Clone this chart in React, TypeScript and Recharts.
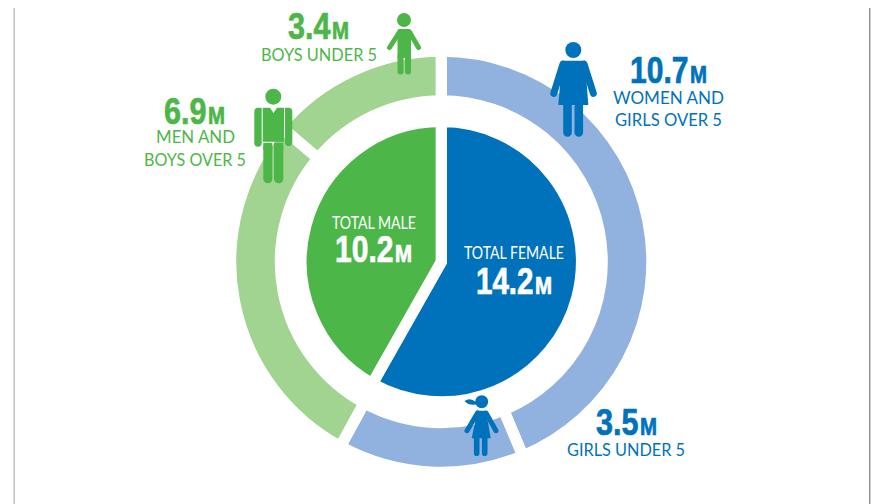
import { Pie, PieChart } from 'recharts';

const totalNames = ['Total Female', 'Total Male'];
const totalValues = [14.2, 10.2];
const totalColors = ['#0072bc', '#4cb748'];

const groupNames = ['Women and girls over 5', 'Girls under 5', 'Men and boys over 5', 'Boys under 5'];
const groupValues = [10.7, 3.5, 6.9, 3.4];
const groupColors = ['#91b1de', '#91b1de', '#a1d391', '#a1d391'];

const totalData = totalNames.map((name, i) => ({ name, value: totalValues[i], fill: totalColors[i] }));
const groupData = groupNames.map((name, i) => ({ name, value: groupValues[i], fill: groupColors[i] }));

const BLUE = '#0072bc';
const GREEN = '#4cb748';
const GAP = 11.3;
const CX = 441.3;
const CY = 261.7;

const LABEL_FONT = 'Lato, "Open Sans", sans-serif';
const VALUE_FONT = '"Liberation Sans Narrow", "Liberation Sans", sans-serif';

function Value({ x, y, w, value, color }: { x: number; y: number; w: number; value: number; color: string }) {
  const style = { fill: color, stroke: color, strokeWidth: 0.7, fontFamily: VALUE_FONT, fontWeight: 700 };
  // the small M is a separate text so the number can be fitted on its own
  return (
    <g style={style}>
      <text x={x} y={y} fontSize={37} textLength={w - 18.5} lengthAdjust="spacingAndGlyphs">
        {value.toFixed(1)}
      </text>
      <text x={x + w - 17} y={y} fontSize={23} textLength={17} lengthAdjust="spacingAndGlyphs">
        M
      </text>
    </g>
  );
}

function Label({ x, y, w, text, color }: { x: number; y: number; w: number; text: string; color: string }) {
  return (
    <text
      x={x}
      y={y}
      fill={color}
      fontFamily={LABEL_FONT}
      fontSize={17}
      textLength={w}
      lengthAdjust="spacingAndGlyphs"
    >
      {text}
    </text>
  );
}

function Boy() {
  return (
    <g fill={GREEN} stroke={GREEN} strokeLinecap="round">
      <circle cx={404} cy={20} r={7} stroke="none" />
      <path d="M399.5 29 H409 Q411 29 411 32 V58 H397.5 V32 Q397.5 29 399.5 29 Z" stroke="none" />
      <path d="M399.5 32 L389.5 47.5 M409.5 32 L418.5 47.5" strokeWidth={5} fill="none" />
      <path d="M400.5 56 V71.5 M408 56 V71.5" strokeWidth={6} fill="none" />
    </g>
  );
}

function Man() {
  return (
    <g fill={GREEN}>
      <circle cx={273.3} cy={96.7} r={8} />
      <path d="M262.7 107.7 H270 L273.5 113 L277 107.7 H284 V141.7 H262.7 Z" />
      <path d="M258 107.7 H261.7 V143 A3.7 3.7 0 0 1 254.3 143 V111.5 A3.8 3.8 0 0 1 258 107.7 Z" />
      <path d="M285 107.7 H288.5 A3.8 3.8 0 0 1 292.3 111.5 V143 A3.7 3.7 0 0 1 285 143 Z" />
      <rect x={263.3} y={142.8} width={9} height={40.5} rx={4.5} />
      <path d="M263.3 142.8 H272.3 V150 H263.3 Z" />
      <rect x={274} y={142.8} width={9.3} height={40.5} rx={4.6} />
      <path d="M274 142.8 H283.3 V150 H274 Z" />
    </g>
  );
}

function Woman() {
  return (
    <g fill={BLUE} stroke={BLUE} strokeLinecap="round">
      <circle cx={573.3} cy={50} r={8} stroke="none" />
      <path d="M562 60.7 H585 L588.3 105 H558.3 Z" stroke="none" />
      <path d="M563 64 L553.8 93.3 M584 64 L593.3 93.3" strokeWidth={7} fill="none" />
      <path d="M567.5 104 V132.5 M578.8 104 V132.5" strokeWidth={8.6} fill="none" />
    </g>
  );
}

function Girl() {
  return (
    <g fill={BLUE} stroke={BLUE} strokeLinecap="round">
      <circle cx={481.7} cy={401.7} r={6.5} stroke="none" />
      <path d="M476 402 Q470 397 464.5 401 Q469 406 476 404.5 Z" stroke="none" />
      <path d="M477.5 410.7 H486 L490.7 438.3 H471.7 Z" stroke="none" />
      <path d="M477.5 413 L467 430.7 M486 413 L496 430.7" strokeWidth={5} fill="none" />
      <path d="M476.7 437 V453.3 M484.7 437 V453.3" strokeWidth={5.6} fill="none" />
    </g>
  );
}

export default function App() {
  return (
    <div style={{ position: 'absolute', left: 0, top: 0, width: 873, height: 504, background: '#fff' }}>
      <PieChart width={873} height={504} margin={{ top: 0, right: 0, bottom: 0, left: 0 }}>
        <Pie
          data={groupData}
          dataKey="value"
          nameKey="name"
          cx={CX}
          cy={CY}
          innerRadius={166.5 - GAP / 2}
          outerRadius={205 + GAP / 2}
          startAngle={90}
          endAngle={-270}
          stroke="#fff"
          strokeWidth={GAP}
          isAnimationActive={false}
        />
        <Pie
          data={totalData}
          dataKey="value"
          nameKey="name"
          cx={CX}
          cy={CY}
          innerRadius={0}
          outerRadius={134.6 + GAP / 2}
          startAngle={90}
          endAngle={-270}
          stroke="#fff"
          strokeWidth={GAP}
          isAnimationActive={false}
        />
      </PieChart>
      {/* recharts paints its pies over chart children, so figures and labels go in their own layer */}
      <svg width={873} height={504} style={{ position: 'absolute', left: 0, top: 0 }}>
        <rect x={13.4} y={8} width={1.6} height={496} fill="#c4c4c4" />
        <rect x={869} y={8} width={1.4} height={496} fill="#8e8e8e" />
        <Boy />
        <Man />
        <Woman />
        <Girl />
        <Value x={288} y={39} w={61} value={groupValues[3]} color={GREEN} />
        <Label x={261} y={61} w={116} text="BOYS UNDER 5" color={GREEN} />
        <Value x={164} y={124} w={61} value={groupValues[2]} color={GREEN} />
        <Label x={156} y={143} w={79} text="MEN AND" color={GREEN} />
        <Label x={144} y={166} w={102} text="BOYS OVER 5" color={GREEN} />
        <Value x={630} y={83} w={77} value={groupValues[0]} color={BLUE} />
        <Label x={613} y={104} w={111} text="WOMEN AND" color={BLUE} />
        <Label x={615} y={126} w={107} text="GIRLS OVER 5" color={BLUE} />
        <Value x={596} y={435} w={61} value={groupValues[1]} color={BLUE} />
        <Label x={567} y={456} w={118} text="GIRLS UNDER 5" color={BLUE} />
        <Label x={332} y={229} w={84} text="TOTAL MALE" color="#fff" />
        <Value x={335} y={262} w={77} value={totalValues[1]} color="#fff" />
        <Label x={464} y={259} w={100} text="TOTAL FEMALE" color="#fff" />
        <Value x={476} y={294} w={76} value={totalValues[0]} color="#fff" />
      </svg>
    </div>
  );
}
